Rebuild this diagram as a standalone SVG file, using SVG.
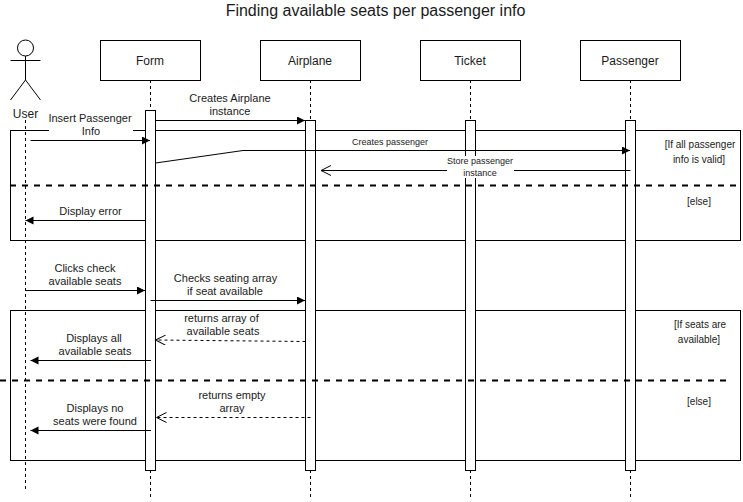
<svg xmlns="http://www.w3.org/2000/svg" width="743" height="502" viewBox="0 0 743 502">
<style>
text{font-family:"Liberation Sans",Arial,sans-serif;font-size:11px;fill:#1a1a1a;text-anchor:middle}
.n{font-size:12px}.s{font-size:9px}.g{font-size:10px}.t{font-size:16px}
.box{fill:#fff;stroke:#000;stroke-width:1}
.frame{fill:none;stroke:#000;stroke-width:1}
.life{fill:none;stroke:#000;stroke-width:1;stroke-dasharray:3 3}
.div{fill:none;stroke:#000;stroke-width:2;stroke-dasharray:6 6}
.msg{fill:none;stroke:#000;stroke-width:1}
.block{marker-end:url(#block)}
.open{marker-end:url(#open)}
.ret{stroke-dasharray:3 3}
.bg{fill:#fff}
</style>
<defs>
<marker id="block" markerUnits="userSpaceOnUse" markerWidth="10" markerHeight="10" refX="8" refY="4" orient="auto"><path d="M0 0L8 4L0 8Z" fill="#000"/></marker>
<marker id="open" markerUnits="userSpaceOnUse" markerWidth="12" markerHeight="12" refX="11" refY="5" orient="auto"><path d="M1 0L11 5L1 10" fill="none" stroke="#000"/></marker>
</defs>
<rect width="743" height="502" fill="#fff"/>
<text class="t" x="375.5" y="16">Finding available seats per passenger info</text>
<g id="frames">
<rect class="frame" x="10.5" y="130.5" width="730" height="110"/>
<rect class="frame" x="10.5" y="310.5" width="730" height="150"/>
</g>
<g id="user">
<circle class="box" cx="25.5" cy="48" r="8"/>
<path class="msg" d="M25.5 56V80M10.5 60.5H40.5M25.5 80L10.5 100M25.5 80L40.5 100"/>
<text class="n" x="25.5" y="117.5">User</text>
<path class="life" d="M25.5 120V490"/>
</g>
<g id="form">
<path class="life" d="M150.5 80V498"/>
<rect class="box" x="100.5" y="40.5" width="100" height="40"/>
<text class="n" x="150" y="65">Form</text>
<rect class="box" x="145.5" y="110.5" width="10" height="360"/>
</g>
<g id="airplane">
<path class="life" d="M310.5 80V498"/>
<rect class="box" x="260.5" y="40.5" width="100" height="40"/>
<text class="n" x="310" y="65">Airplane</text>
<rect class="box" x="305.5" y="120.5" width="10" height="350"/>
</g>
<g id="ticket">
<path class="life" d="M470.5 80V498"/>
<rect class="box" x="420.5" y="40.5" width="100" height="40"/>
<text class="n" x="470" y="65">Ticket</text>
<rect class="box" x="465.5" y="120.5" width="10" height="350"/>
</g>
<g id="passenger">
<path class="life" d="M630.5 80V498"/>
<rect class="box" x="580.5" y="40.5" width="100" height="40"/>
<text class="n" x="630" y="65">Passenger</text>
<rect class="box" x="625.5" y="120.5" width="10" height="350"/>
</g>
<g id="dividers">
<path class="div" d="M10 185.5H740"/>
<path class="div" d="M0 380.5H728"/>
</g>
<g id="connectors">
<path class="msg block" d="M155.5 120.5H305"/>
<path class="msg block" d="M30.5 140.5H150"/>
<path class="msg block" d="M155.5 163L243 150.5H630"/>
<path class="msg open" d="M630.5 170.5H321"/>
<path class="msg block" d="M145.5 220.5H25.5"/>
<path class="msg block" d="M25.5 290.5H145"/>
<path class="msg block" d="M150.5 300.5H305"/>
<path class="msg open ret" d="M305.5 341.5L155.5 340"/>
<path class="msg block" d="M151 360.5H30.5"/>
<path class="msg open ret" d="M310.5 417.5H156.5"/>
<path class="msg block" d="M151 430.5H30.5"/>
</g>
<g id="labels">
<text x="230" y="102">Creates Airplane</text>
<text x="230" y="115">instance</text>
<rect class="bg" x="49" y="113" width="84" height="25"/>
<text x="90" y="122">Insert Passenger</text>
<text x="91" y="135">Info</text>
<text class="s" x="390" y="145">Creates passenger</text>
<rect class="bg" x="447" y="156" width="67" height="22"/>
<text class="s" x="480" y="164">Store passenger</text>
<text class="s" x="480" y="176">instance</text>
<text class="g" x="700" y="148">[If all passenger</text>
<text class="g" x="699" y="163">info is valid]</text>
<text class="g" x="699" y="205">[else]</text>
<text x="90.5" y="215">Display error</text>
<text x="85" y="272">Clicks check</text>
<text x="85" y="285">available seats</text>
<text x="225.5" y="282">Checks seating array</text>
<text x="225" y="295">if seat available</text>
<text x="221.5" y="322">returns array of</text>
<text x="223" y="335">available seats</text>
<text x="94" y="342">Displays all</text>
<text x="95" y="355">available seats</text>
<text x="232" y="399">returns empty</text>
<text x="232" y="412">array</text>
<text x="95" y="412">Displays no</text>
<text x="95" y="425">seats were found</text>
<text class="g" x="700" y="328">[If seats are</text>
<text class="g" x="699" y="343">available]</text>
<text class="g" x="699" y="405">[else]</text>
</g>
</svg>
